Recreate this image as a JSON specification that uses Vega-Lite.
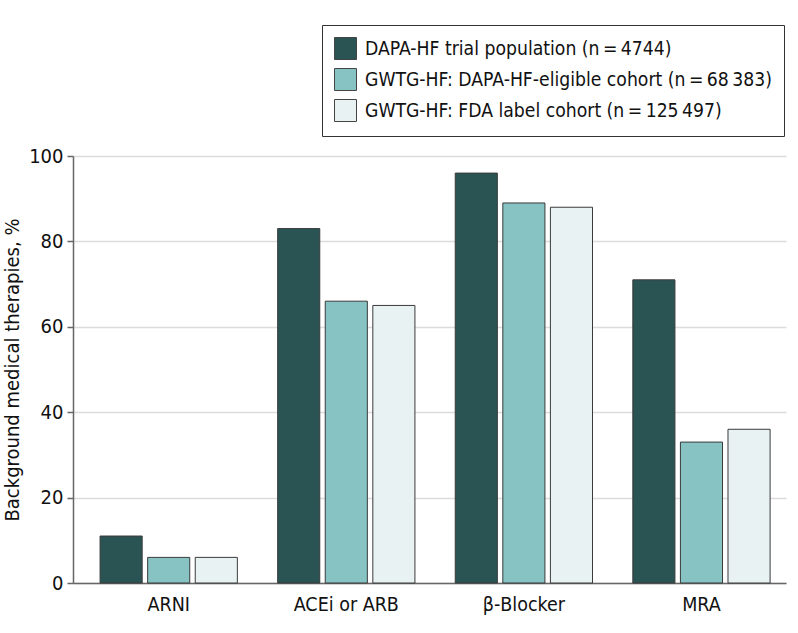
{
  "$schema": "https://vega.github.io/schema/vega-lite/v6.json",
  "autosize": {"type": "none"},
  "padding": {"left": 73, "top": 156, "right": 12, "bottom": 50},
  "width": 713,
  "height": 427,
  "background": "white",
  "config": {
    "font": "DejaVu Sans Condensed, Liberation Sans Narrow, Roboto",
    "view": {"stroke": null}
  },
  "data": {
    "values": [
      {"therapy": "ARNI", "cohort": "DAPA-HF trial population (n\u2009=\u20094744)", "pct": 11},
      {"therapy": "ARNI", "cohort": "GWTG-HF: DAPA-HF-eligible cohort (n\u2009=\u200968\u2009383)", "pct": 6},
      {"therapy": "ARNI", "cohort": "GWTG-HF: FDA label cohort (n\u2009=\u2009125\u2009497)", "pct": 6},
      {"therapy": "ACEi or ARB", "cohort": "DAPA-HF trial population (n\u2009=\u20094744)", "pct": 83},
      {"therapy": "ACEi or ARB", "cohort": "GWTG-HF: DAPA-HF-eligible cohort (n\u2009=\u200968\u2009383)", "pct": 66},
      {"therapy": "ACEi or ARB", "cohort": "GWTG-HF: FDA label cohort (n\u2009=\u2009125\u2009497)", "pct": 65},
      {"therapy": "β-Blocker", "cohort": "DAPA-HF trial population (n\u2009=\u20094744)", "pct": 96},
      {"therapy": "β-Blocker", "cohort": "GWTG-HF: DAPA-HF-eligible cohort (n\u2009=\u200968\u2009383)", "pct": 89},
      {"therapy": "β-Blocker", "cohort": "GWTG-HF: FDA label cohort (n\u2009=\u2009125\u2009497)", "pct": 88},
      {"therapy": "MRA", "cohort": "DAPA-HF trial population (n\u2009=\u20094744)", "pct": 71},
      {"therapy": "MRA", "cohort": "GWTG-HF: DAPA-HF-eligible cohort (n\u2009=\u200968\u2009383)", "pct": 33},
      {"therapy": "MRA", "cohort": "GWTG-HF: FDA label cohort (n\u2009=\u2009125\u2009497)", "pct": 36}
    ]
  },
  "mark": {"type": "bar", "stroke": "#3a3a3a", "strokeWidth": 1},
  "encoding": {
    "x": {
      "field": "therapy",
      "type": "nominal",
      "sort": ["ARNI", "ACEi or ARB", "β-Blocker", "MRA"],
      "scale": {"paddingInner": 0.227, "paddingOuter": 0.121, "align": 0.63},
      "axis": {
        "title": null,
        "labelAngle": 0,
        "ticks": false,
        "labelFontSize": 19.5,
        "labelColor": "#111",
        "labelPadding": 12,
        "domainColor": "#666",
        "domainWidth": 1.5
      }
    },
    "xOffset": {
      "field": "cohort",
      "type": "nominal",
      "sort": null,
      "scale": {"paddingInner": 0.115, "paddingOuter": 0}
    },
    "y": {
      "field": "pct",
      "type": "quantitative",
      "scale": {"domain": [0, 100]},
      "axis": {
        "title": "Background medical therapies, %",
        "titleFontSize": 20,
        "titleFontWeight": "normal",
        "titleColor": "#111",
        "titlePadding": 6,
        "values": [0, 20, 40, 60, 80, 100],
        "labelFontSize": 20,
        "labelColor": "#111",
        "labelPadding": 4,
        "tickSize": 6,
        "tickColor": "#666",
        "tickWidth": 1.5,
        "domainColor": "#666",
        "domainWidth": 1.5,
        "grid": true,
        "gridColor": "#dcdcdc",
        "gridWidth": 1.5
      }
    },
    "color": {
      "field": "cohort",
      "type": "nominal",
      "sort": null,
      "scale": {
        "domain": [
          "DAPA-HF trial population (n\u2009=\u20094744)",
          "GWTG-HF: DAPA-HF-eligible cohort (n\u2009=\u200968\u2009383)",
          "GWTG-HF: FDA label cohort (n\u2009=\u2009125\u2009497)"
        ],
        "range": ["#2a5454", "#86c3c2", "#e8f2f3"]
      },
      "legend": {
        "title": null,
        "orient": "none",
        "legendX": 249,
        "legendY": -131,
        "direction": "vertical",
        "symbolType": "square",
        "symbolSize": 484,
        "symbolStrokeColor": "#444",
        "symbolStrokeWidth": 1,
        "symbolOpacity": 1,
        "labelFontSize": 19.2,
        "labelColor": "#111",
        "labelLimit": 500,
        "labelOffset": 8,
        "rowPadding": 4,
        "padding": 12,
        "strokeColor": "#333",
        "fillColor": "white"
      }
    }
  }
}
